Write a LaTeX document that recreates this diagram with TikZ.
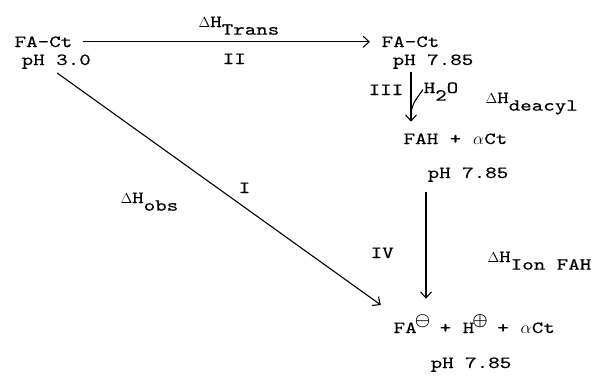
\documentclass[tikz,border=0pt]{standalone}
\usepackage{fontspec}
\setmonofont{lmmono10-regular}[Extension=.otf, FakeStretch=1.29, FakeBold=0.5]
\usetikzlibrary{arrows.meta,calc}

% one typewriter place
\newcommand\place[1]{\makebox[11.5pt]{#1}}
% lowered index, same size as the text
\newcommand\lowr[1]{\raisebox{-0.45em}{#1}}
% raised charge sign
\newcommand\chg[1]{\place{\raisebox{0.45em}{\fontsize{18}{18}\selectfont\boldmath$#1$}}}
\newcommand\dH{\place{\fontsize{15}{15}\selectfont$\Delta$}H}
\newcommand\alp{\place{$\alpha$}}

\begin{document}
\begin{tikzpicture}[x=1pt, y=-1pt, >={Straight Barb[length=6pt,width=11pt]},
  every node/.style={anchor=base west, inner sep=0.5pt,
    font=\fontsize{17}{20}\selectfont\ttfamily},
  step line/.style={->, line width=1.1pt}]

  \useasboundingbox (0,0) rectangle (592,378);

  % Zustaende
  \node (fact)  at (14,47)   {FA-Ct};
  \node (phA)   at (21,65)   {pH 3.0};
  \node (factB) at (381,47)  {FA-Ct};
  \node (phB)   at (392,65)  {pH 7.85};
  \node (fah)   at (403,144) {FAH + \alp Ct};
  \node (phC)   at (427,178) {pH 7.85};
  \node (ions)  at (393,333) {FA\chg{\ominus} + H\chg{\oplus} + \alp Ct};
  \node (phD)   at (430,368) {pH 7.85};

  % Beschriftungen
  \node (dhtrans)  at (198,27)  {\dH\lowr{Trans}};
  \node (lII)      at (222,64)  {II};
  \node (lIII)     at (368,95)  {III};
  \node (water)    at (423,93)  {H\lowr{2}O};
  \node (dhdeacyl) at (485,103) {\dH\lowr{deacyl}};
  \node (lIV)      at (370,258) {IV};
  \node (dhion)    at (487,262) {\dH\lowr{Ion FAH}};
  \node (dhobs)    at (120,203) {\dH\lowr{obs}};
  \node (lI)       at (238,193) {I};

  % Wege
  \draw[step line, shorten <=10pt, shorten >=11pt] (fact.east) -- (factB.west);
  \draw[step line, shorten <=6pt, shorten >=15pt] ([xshift=-4pt]phA.south) -- (ions.north west);

  \coordinate (a3s) at ([xshift=19pt]phB.south west);
  \coordinate (a3e) at (a3s |- fah.north);
  \draw[step line, shorten <=3pt, shorten >=11pt] (a3s) -- (a3e);
  \draw[line width=1.1pt] ($(a3s)!0.68!(a3e)$) .. controls +(2,-9) .. ([yshift=2pt]water.west);

  \draw[step line, shorten <=10pt, shorten >=15pt] ([xshift=-1pt]phC.south west) -- ([xshift=-1pt]phC.south west |- ions.north);

\end{tikzpicture}
\end{document}
